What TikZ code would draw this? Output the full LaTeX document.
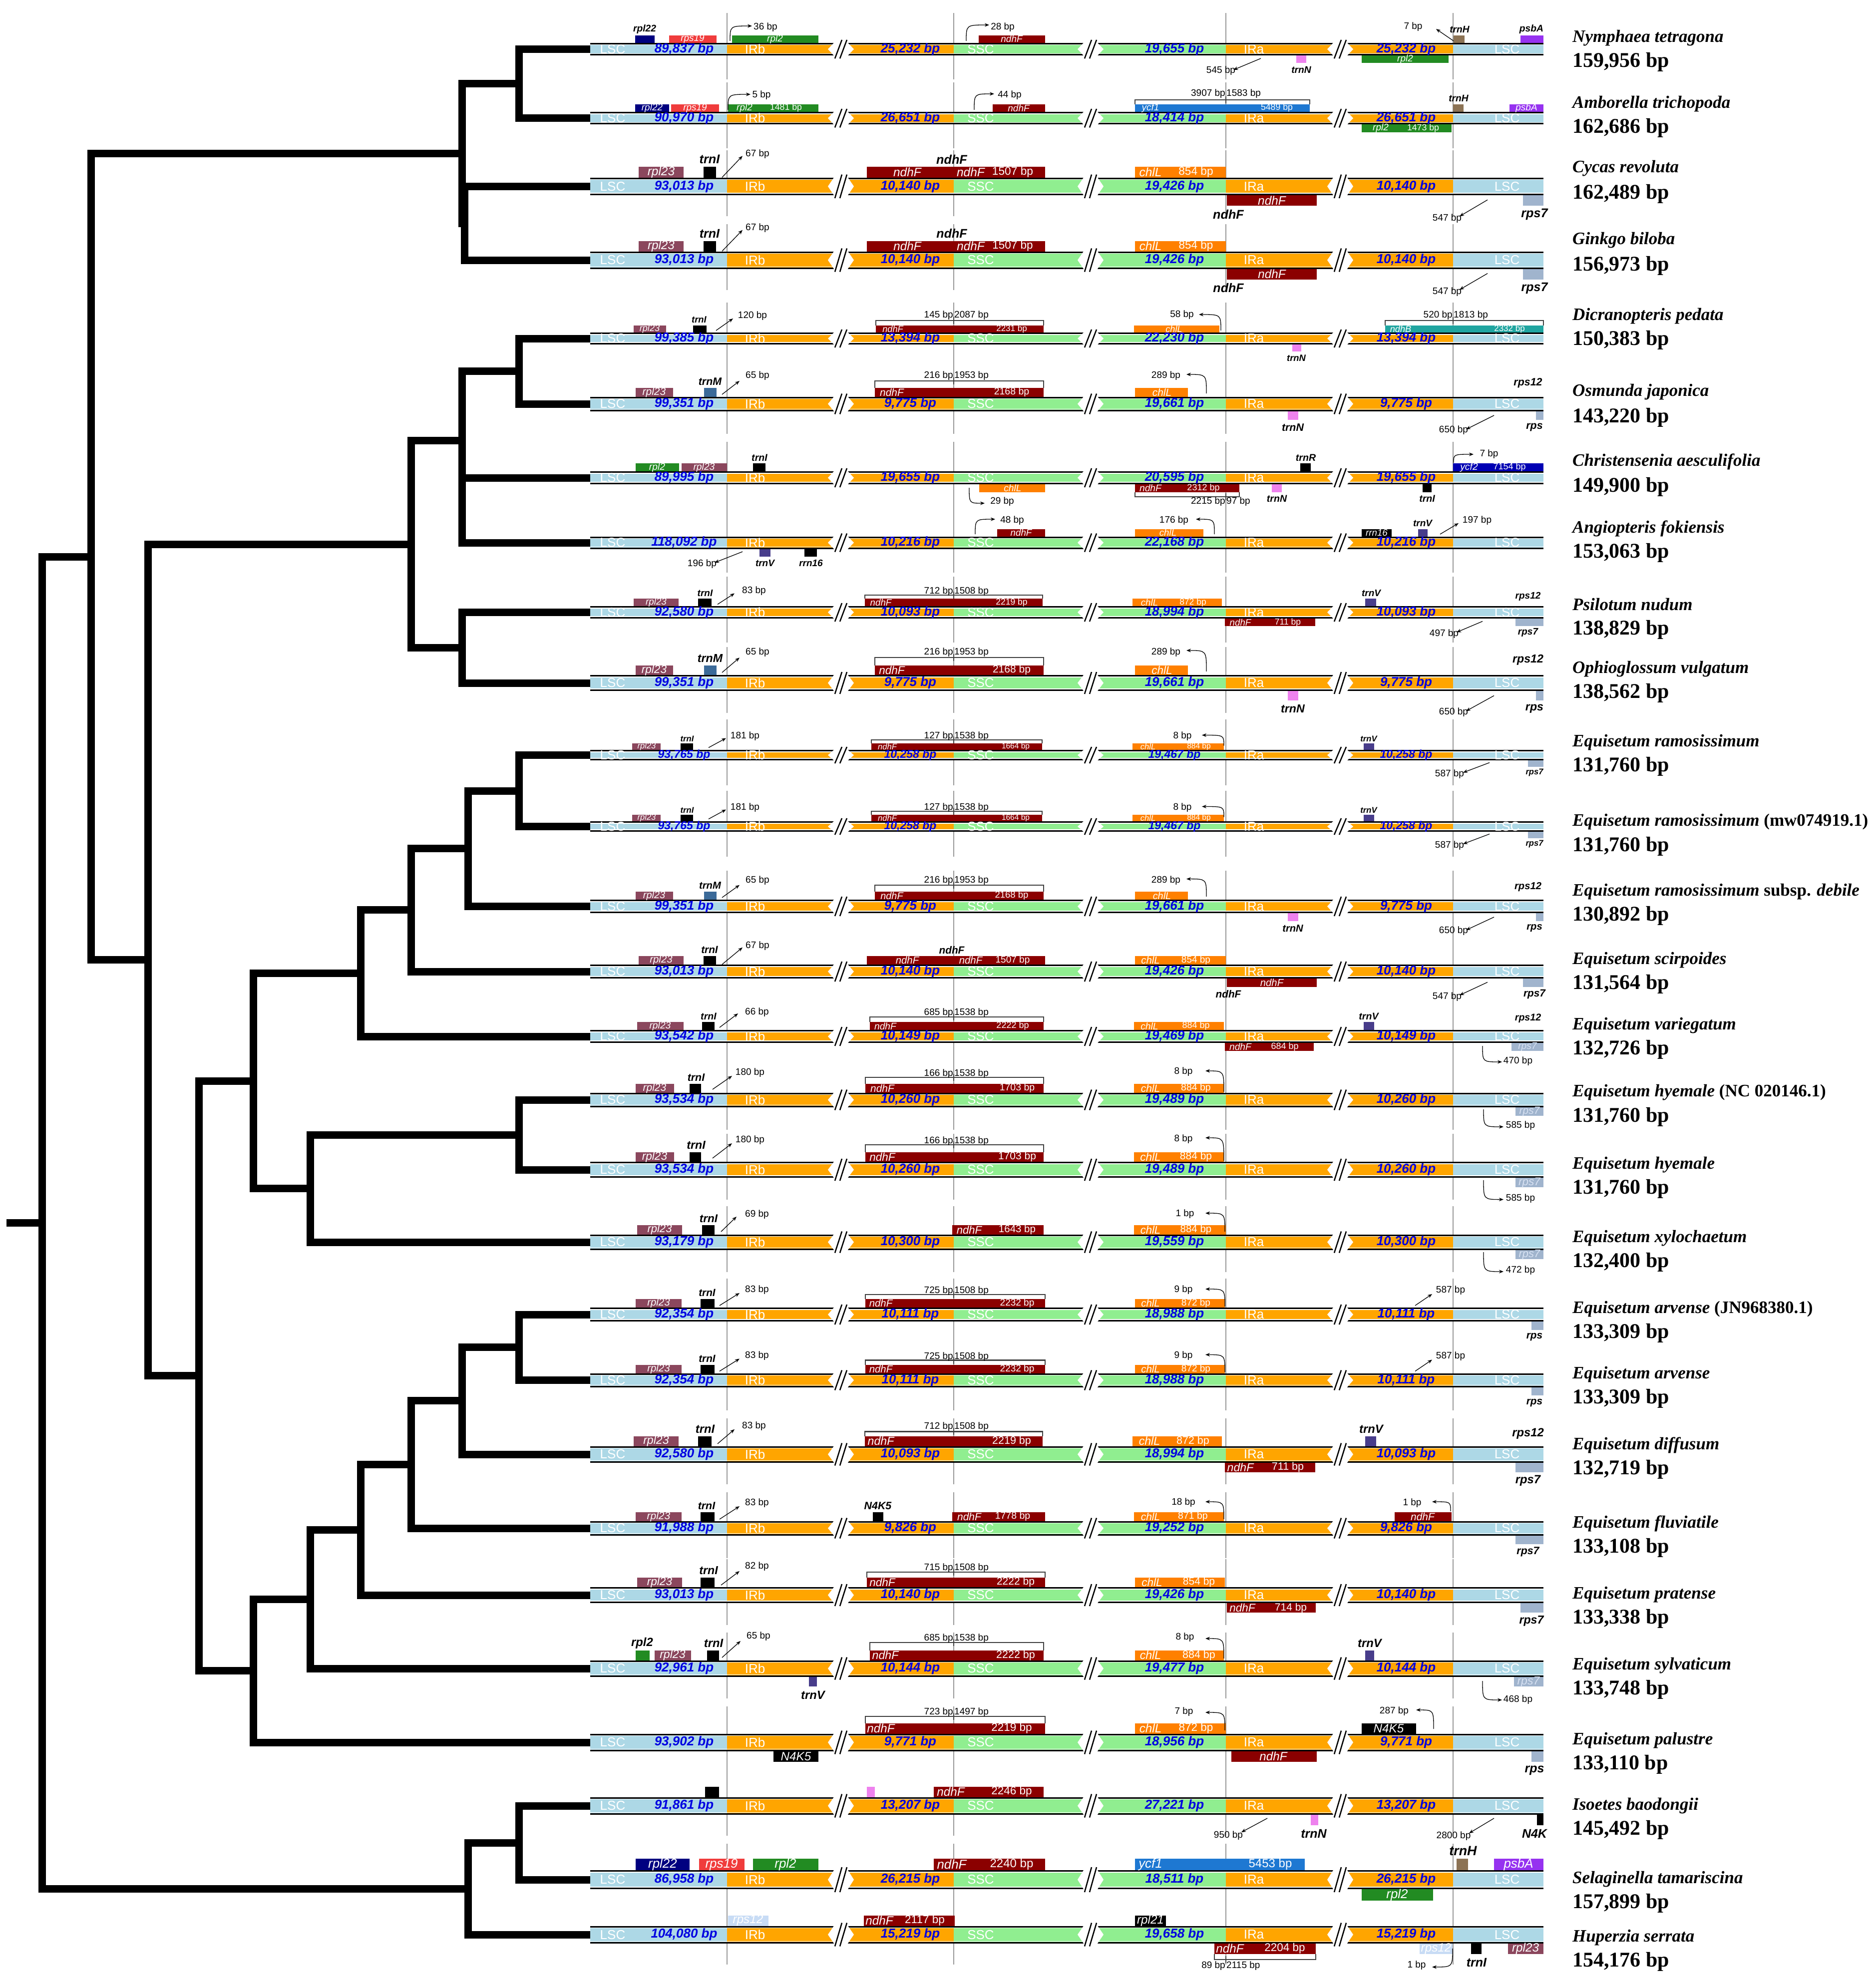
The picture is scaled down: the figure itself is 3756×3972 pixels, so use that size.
\documentclass[tikz,border=0pt]{standalone}
\usepackage{fontspec}
\setmainfont{Liberation Serif}
\setsansfont{Liberation Sans}
\usetikzlibrary{arrows.meta}
\definecolor{cLSC}{RGB}{173,216,230}
\definecolor{cIR}{RGB}{255,165,0}
\definecolor{cSSC}{RGB}{144,238,144}
\definecolor{bpblue}{RGB}{0,0,225}
\definecolor{crpl22}{RGB}{0,0,128}
\definecolor{crps19}{RGB}{240,60,60}
\definecolor{crpl2}{RGB}{34,139,34}
\definecolor{cndhF}{RGB}{139,0,0}
\definecolor{ctrnH}{RGB}{140,115,85}
\definecolor{cpsbA}{RGB}{150,50,240}
\definecolor{ctrnN}{RGB}{238,130,238}
\definecolor{cycf1}{RGB}{30,120,210}
\definecolor{crpl23}{RGB}{139,71,93}
\definecolor{cchlL}{RGB}{255,128,0}
\definecolor{crps7}{RGB}{160,180,205}
\definecolor{crps7t}{RGB}{215,225,242}
\definecolor{cndhB}{RGB}{32,165,160}
\definecolor{ctrnM}{RGB}{59,106,153}
\definecolor{cycf2}{RGB}{0,0,180}
\definecolor{ctrnV}{RGB}{72,61,139}
\definecolor{crps12}{RGB}{200,220,245}
\def\bfsz{26}\def\gfs{19}\def\gfn{18}\def\gnm{19}
\tikzset{
 segt/.style={font=\sffamily\fontsize{26}{26}\selectfont,text=white,inner sep=0},
 bpt/.style={font=\sffamily\bfseries\itshape\fontsize{\bfsz}{\bfsz}\selectfont,text=bpblue,inner sep=0},
 glab/.style={font=\sffamily\itshape\fontsize{\gfs}{\gfs}\selectfont,text=white,inner sep=0},
 glabn/.style={font=\sffamily\fontsize{\gfn}{\gfn}\selectfont,text=white,inner sep=0},
 glabl/.style={font=\sffamily\itshape\fontsize{\gfs}{\gfs}\selectfont,text=crps7t,inner sep=0},
 gname/.style={font=\sffamily\bfseries\itshape\fontsize{\gnm}{\gnm}\selectfont,inner sep=0},
 ann/.style={font=\sffamily\fontsize{19}{19}\selectfont,inner sep=0},
 spn/.style={font=\rmfamily\bfseries\itshape\fontsize{35}{35}\selectfont,anchor=west,inner sep=0},
 spb/.style={font=\rmfamily\bfseries\fontsize{42}{42}\selectfont,anchor=west,inner sep=0},
 arr/.style={-{Stealth[length=9pt,width=7pt]},line width=1.3},
 brk/.style={line width=2.2,black!75},
 vline/.style={line width=1.8,black!40},
 treeline/.style={line width=15,line cap=rect}
}
\newcommand\xBar{%
 \foreach \xx in {1456,1910,2455,2910}{\draw[vline] (\xx,{\yc-72}) -- (\xx,{\yc+60});}
 \fill[cLSC] (1182,\ta) rectangle (1456,\tb);
 \fill[cIR] (1456,\ta) rectangle (1670,\tb);
 \fill[cIR] (1698,\ta) rectangle (1910,\tb);
 \fill[cSSC] (1910,\ta) rectangle (2170,\tb);
 \fill[cSSC] (2198,\ta) rectangle (2455,\tb);
 \fill[cIR] (2455,\ta) rectangle (2670,\tb);
 \fill[cIR] (2698,\ta) rectangle (2910,\tb);
 \fill[cLSC] (2910,\ta) rectangle (3091,\tb);
 \foreach \xa/\xb in {1182/1670,1698/2170,2198/2670,2698/3091}{
  \draw[line width=3] (\xa,{\ta+1.5}) -- (\xb,{\ta+1.5});
  \draw[line width=3] (\xa,{\tb-1.5}) -- (\xb,{\tb-1.5});
  \draw[white,line width=1.2] (\xa,{\ta+4}) -- (\xb,{\ta+4});
  \draw[white,line width=1.2] (\xa,{\tb-4}) -- (\xb,{\tb-4});}
 \foreach \xb in {1684,2184,2684}{
  \fill[white] ({\xb-14},\ta) -- ({\xb-26},\yc) -- ({\xb-14},\tb) -- cycle;
  \fill[white] ({\xb+14},\ta) -- ({\xb+26},\yc) -- ({\xb+14},\tb) -- cycle;
  \draw[line width=2.5] ({\xb-12},{\tb+6}) -- ({\xb+2},{\ta-6});
  \draw[line width=2.5] ({\xb-2},{\tb+6}) -- ({\xb+12},{\ta-6});}
}
\newcommand\xRow[2]{\def\bfsz{26}\def\sc{1}%
 \pgfmathsetmacro\yc{#1}\pgfmathsetmacro\hh{#2}%
 \pgfmathsetmacro\gfs{1.1*#2+5}\pgfmathsetmacro\gfn{1.0*#2+5}\pgfmathsetmacro\gnm{1.2*#2+4}%
 \pgfmathsetmacro\gh{1.2*#2}\pgfmathsetmacro\ta{#1-#2}\pgfmathsetmacro\tb{#1+#2}%
 \pgfmathsetmacro\ga{#1-2.2*#2}\pgfmathsetmacro\gb{#1+2.2*#2}\xBar}
\newcommand\xGU[3]{\fill[#3] (#1,\ga) rectangle (#2,\ta);}
\newcommand\xGD[3]{\fill[#3] (#1,\tb) rectangle (#2,\gb);}
\newcommand\xTU[2]{\node[glab] at (#1,{\yc-1.6*\hh}) {#2};}
\newcommand\xTUn[2]{\node[glabn] at (#1,{\yc-1.6*\hh}) {#2};}
\newcommand\xTD[2]{\node[glab] at (#1,{\yc+1.6*\hh}) {#2};}
\newcommand\xTDn[2]{\node[glabn] at (#1,{\yc+1.6*\hh}) {#2};}
\newcommand\xTDl[2]{\node[glabl] at (#1,{\yc+1.6*\hh}) {#2};}
\newcommand\xNU[2]{\node[gname] at (#1,{\ga-0.6*\gnm}) {#2};}
\newcommand\xND[2]{\node[gname] at (#1,{\gb+0.7*\gnm}) {#2};}
\newcommand\xNm[3]{\node[gname] at (#1,{\yc+(#2)*\sc}) {#3};}
\newcommand\xA[3]{\node[ann] at (#1,{\yc+(#2)*\sc}) {#3};}
\newcommand\xAr[4]{\draw[arr] (#1,{\yc+(#2)*\sc}) -- (#3,{\yc+(#4)*\sc});}
\newcommand\xCv[4]{\draw[arr] (#1,{\yc+(#2)*\sc}) .. controls (#1,{\yc+(#4)*\sc}) .. (#3,{\yc+(#4)*\sc});}
\newcommand\xBRU[7]{\draw[brk] (#1,\ga) -- (#1,{\yc+(#3)*\sc}) -- (#2,{\yc+(#3)*\sc}) -- (#2,\ga);
 \draw[brk] (#4,{\yc+(#3)*\sc-7}) -- (#4,{\yc+(#3)*\sc+7});
 \node[ann,anchor=east] at ({#4-1},{\yc+(#7)*\sc}) {#5};
 \node[ann,anchor=west] at ({#4+1},{\yc+(#7)*\sc}) {#6};}
\newcommand\xBRD[7]{\draw[brk] (#1,\gb) -- (#1,{\yc+(#3)*\sc}) -- (#2,{\yc+(#3)*\sc}) -- (#2,\gb);
 \draw[brk] (#4,{\yc+(#3)*\sc-7}) -- (#4,{\yc+(#3)*\sc+7});
 \node[ann,anchor=east] at ({#4-1},{\yc+(#7)*\sc}) {#5};
 \node[ann,anchor=west] at ({#4+1},{\yc+(#7)*\sc}) {#6};}
\newcommand\xBT[4]{%
 \node[segt] at (1227,\yc) {LSC};
 \node[bpt] at (1370,\yc) {#1};
 \node[segt] at (1512,\yc) {IRb};
 \node[bpt] at (1823,\yc) {#2};
 \node[segt] at (1964,\yc) {SSC};
 \node[bpt] at (2352,\yc) {#3};
 \node[segt] at (2511,\yc) {IRa};
 \node[bpt] at (2816,\yc) {#4};
 \node[segt] at (3018,\yc) {LSC};}
\newcommand\xSp[4]{\node[spn] at (3149,#1) {#3}; \node[spb] at (3149,#2) {#4};}
% ---------- patterns ----------
\newcommand\PCycas{%
 \pgfmathsetmacro\sc{\hh/17.7}%
 \xBT{93,013 bp}{10,140 bp}{19,426 bp}{10,140 bp}%
 \xGU{1279}{1369}{crpl23}\xTU{1324}{rpl23}%
 \xGU{1409}{1434}{black}\xNU{1421}{trnI}%
 \xAr{1446}{-18}{1487}{-61}\xA{1517}{-65}{67 bp}%
 \xGU{1736}{2093}{cndhF}\xTU{1817}{ndhF}\xTU{1944}{ndhF}\xTUn{2028}{1507 bp}\xNU{1906}{ndhF}%
 \xGU{2273}{2455}{cchlL}\xTU{2304}{chlL}\xTUn{2395}{854 bp}%
 \xGD{2457}{2637}{cndhF}\xTD{2547}{ndhF}\xND{2460}{ndhF}%
 \xAr{2979}{27}{2923}{60}\xA{2898}{64}{547 bp}%
 \xGD{3050}{3091}{crps7}\xND{3073}{rps7}}
\newcommand\POsm{%
 \pgfmathsetmacro\sc{\hh/14.5}%
 \xBT{99,351 bp}{9,775 bp}{19,661 bp}{9,775 bp}%
 \xGU{1273}{1348}{crpl23}\xTU{1310}{rpl23}%
 \xGU{1410}{1435}{ctrnM}\xNU{1422}{trnM}%
 \xAr{1446}{-19}{1481}{-46}\xA{1517}{-56}{65 bp}%
 \xGU{1752}{2090}{cndhF}\xTU{1786}{ndhF}\xTUn{2026}{2168 bp}%
 \xBRU{1752}{2090}{-46}{1910}{216 bp}{1953 bp}{-56}%
 \xGU{2273}{2379}{cchlL}\xTU{2327}{chlL}%
 \xCv{2416}{-21}{2376}{-59}\xA{2335}{-56}{289 bp}%
 \xNm{3060}{-42}{rps12}%
 \xGD{2579}{2600}{ctrnN}\xND{2589}{trnN}%
 \xAr{2992}{23}{2936}{51}\xA{2911}{53}{650 bp}%
 \xGD{3076}{3091}{crps7}\xND{3073}{rps}}
\newcommand\PPsi{%
 \pgfmathsetmacro\sc{\hh/12.5}%
 \xBT{92,580 bp}{10,093 bp}{18,994 bp}{10,093 bp}%
 \xGU{1269}{1359}{crpl23}\xTU{1314}{rpl23}%
 \xGU{1398}{1425}{black}\xNU{1412}{trnI}%
 \xAr{1437}{-16}{1471}{-38}\xA{1510}{-43}{83 bp}%
 \xGU{1732}{2088}{cndhF}\xTU{1764}{ndhF}\xTUn{2026}{2219 bp}%
 \xBRU{1732}{2088}{-34.5}{1910}{712 bp}{1508 bp}{-42}%
 \xGU{2268}{2447}{cchlL}\xTU{2302}{chlL}\xTUn{2389}{872 bp}%
 \xGU{2734}{2756}{ctrnV}\xNU{2746}{trnV}%
 \xNm{3060}{-31.5}{rps12}%
 \xGD{2453}{2634}{cndhF}\xTD{2484}{ndhF}\xTDn{2579}{711 bp}%
 \xGD{3035}{3091}{crps7}\xND{3060}{rps7}}
\newcommand\PRam{%
 \pgfmathsetmacro\sc{\hh/10.5}%
 \xBT{93,765 bp}{10,258 bp}{19,467 bp}{10,258 bp}%
 \xGU{1266}{1323}{crpl23}\xTU{1295}{rpl23}%
 \xGU{1363}{1388}{black}\xNU{1376}{trnI}%
 \xAr{1419}{-15}{1454}{-34}\xA{1492}{-38}{181 bp}%
 \xGU{1745}{2087}{cndhF}\xTU{1777}{ndhF}\xTUn{2034}{1664 bp}%
 \xBRU{1745}{2087}{-30.5}{1910}{127 bp}{1538 bp}{-38}%
 \xGU{2268}{2451}{cchlL}\xTU{2299}{chlL}\xTUn{2401}{884 bp}%
 \xCv{2451}{-19}{2407}{-40}\xA{2368}{-38}{8 bp}%
 \xGU{2731}{2752}{ctrnV}\xNU{2741}{trnV}%
 \xAr{2983}{15}{2930}{35}\xA{2903}{38}{587 bp}%
 \xGD{3060}{3091}{crps7}\xND{3073}{rps7}}
\newcommand\PHye{%
 \pgfmathsetmacro\sc{\hh/14.5}%
 \xBT{93,534 bp}{10,260 bp}{19,489 bp}{10,260 bp}%
 \xGU{1273}{1350}{crpl23}\xTU{1311}{rpl23}%
 \xGU{1381}{1404}{black}\xNU{1394}{trnI}%
 \xAr{1427}{-21}{1466}{-48}\xA{1502}{-54}{180 bp}%
 \xGU{1733}{2090}{cndhF}\xTU{1767}{ndhF}\xTUn{2037}{1703 bp}%
 \xBRU{1733}{2090}{-45}{1910}{166 bp}{1538 bp}{-52}%
 \xGU{2271}{2451}{cchlL}\xTU{2304}{chlL}\xTUn{2395}{884 bp}%
 \xCv{2451}{-16}{2414}{-58}\xA{2370}{-56}{8 bp}%
 \xGD{3035}{3091}{crps7}\xTDl{3063}{rps7}%
 \xCv{2971}{19}{3011}{54}\xA{3045}{52}{585 bp}}
\newcommand\PArv{%
 \pgfmathsetmacro\sc{\hh/14}%
 \xBT{92,354 bp}{10,111 bp}{18,988 bp}{10,111 bp}%
 \xGU{1273}{1365}{crpl23}\xTU{1319}{rpl23}%
 \xGU{1403}{1431}{black}\xNU{1416}{trnI}%
 \xAr{1441}{-18}{1481}{-43}\xA{1516}{-49}{83 bp}%
 \xGU{1733}{2093}{cndhF}\xTU{1764}{ndhF}\xTUn{2037}{2232 bp}%
 \xBRU{1733}{2093}{-40}{1910}{725 bp}{1508 bp}{-47}%
 \xGU{2273}{2453}{cchlL}\xTU{2304}{chlL}\xTUn{2395}{872 bp}%
 \xCv{2453}{-16}{2414}{-51}\xA{2370}{-49}{9 bp}%
 \xAr{2834}{-18}{2868}{-41}\xA{2905}{-48}{587 bp}%
 \xGD{3067}{3091}{crps7}\xND{3073}{rps}}
\begin{document}
\begin{tikzpicture}[x=1pt,y=-1pt]
\useasboundingbox (0,0) rectangle (3756,3972);
\fill[white] (0,0) rectangle (3756,3972);
% ---------- tree ----------
\foreach \i/\y in {1/98.5,2/236.7,3/373.3,4/521,5/678,6/809,7/957,8/1087,9/1226.5,10/1368,11/1512.5,12/1655.5,13/1815.5,14/1946,15/2076,16/2203,17/2343,18/2488,19/2633,20/2764.5,21/2913,22/3061,23/3195,24/3342,25/3490,26/3617,27/3765,28/3875}{\coordinate (L\i) at (1182,\y);}
\coordinate (A1) at (1039,167.6);
\coordinate (G1) at (930,447.2);
\coordinate (S) at (925,307.4);
\coordinate (F1) at (1039,743.5);
\coordinate (F2) at (925,1022);
\coordinate (F3) at (925,882.8);
\coordinate (F4) at (925,1297.3);
\coordinate (F5) at (823,1090);
\coordinate (E1) at (1039,1584);
\coordinate (E2) at (937,1699.8);
\coordinate (E3) at (823,1822.9);
\coordinate (E4) at (722,1949.4);
\coordinate (E5) at (1039,2273);
\coordinate (E6) at (621,2380.5);
\coordinate (H) at (507,2165);
\coordinate (E8) at (1039,2698.8);
\coordinate (E9) at (925,2805.9);
\coordinate (E10) at (823,2933.5);
\coordinate (E11) at (722,3064.2);
\coordinate (E12) at (621,3203.1);
\coordinate (E13) at (507,3346.6);
\coordinate (Gen) at (398,2755.8);
\coordinate (FE) at (296,1922.9);
\coordinate (V) at (182,1115.2);
\coordinate (Ly1) at (1039,3691);
\coordinate (Ly2) at (937,3783);
\coordinate (Rt) at (84,2449.1);
\coordinate (R0) at (20,2449.1);
\foreach \p/\c in {A1/L1,A1/L2,G1/L3,G1/L4,S/A1,S/G1,F1/L5,F1/L6,F2/L7,F2/L8,F3/F1,F3/F2,F4/L9,F4/L10,F5/F3,F5/F4,E1/L11,E1/L12,E2/E1,E2/L13,E3/E2,E3/L14,E4/E3,E4/L15,E5/L16,E5/L17,E6/E5,E6/L18,H/E4,H/E6,E8/L19,E8/L20,E9/E8,E9/L21,E10/E9,E10/L22,E11/E10,E11/L23,E12/E11,E12/L24,E13/E12,E13/L25,Gen/H,Gen/E13,FE/F5,FE/Gen,V/S,V/FE,Ly1/L26,Ly1/L27,Ly2/Ly1,Ly2/L28,Rt/V,Rt/Ly2}{\draw[treeline] (\p) |- (\c);}
\draw[treeline] (R0) -- (Rt);
% ---------- row 1 Nymphaea ----------
\xRow{98.5}{12.7}
\xBT{89,837 bp}{25,232 bp}{19,655 bp}{25,232 bp}
\xGU{1272}{1311}{crpl22}\xNU{1291}{rpl22}
\xGU{1340}{1435}{crps19}\xTU{1387}{rps19}
\xGU{1466}{1639}{crpl2}\xTU{1552}{rpl2}
\xCv{1462}{-16.5}{1506}{-46.5}\xA{1533}{-43.5}{36 bp}
\xGU{1960}{2093}{cndhF}\xTU{2026}{ndhF}
\xCv{1935}{-16.5}{1981}{-48.5}\xA{2008}{-43.5}{28 bp}
\xAr{2525}{18.5}{2470}{41.5}\xA{2445}{43.5}{545 bp}
\xGD{2596}{2616}{ctrnN}\xND{2606}{trnN}
\xGD{2727}{2901}{crpl2}\xTD{2814}{rpl2}
\xAr{2911}{-16.5}{2876}{-40.5}\xA{2830}{-44.5}{7 bp}
\xGU{2911}{2933}{ctrnH}\xNU{2923}{trnH}
\xGU{3045}{3091}{cpsbA}\xNU{3067}{psbA}
% ---------- row 2 Amborella ----------
\xRow{236.7}{12.7}
\xBT{90,970 bp}{26,651 bp}{18,414 bp}{26,651 bp}
\xGU{1272}{1340}{crpl22}\xTU{1306}{rpl22}
\xGU{1344}{1440}{crps19}\xTU{1392}{rps19}
\xGU{1458}{1639}{crpl2}\xTU{1491}{rpl2}\xTUn{1574}{1481 bp}
\xCv{1458}{-16.7}{1503}{-47.7}\xA{1525}{-45.7}{5 bp}
\xGU{1988}{2093}{cndhF}\xTU{2040}{ndhF}
\xCv{1951}{-16.7}{1991}{-48.7}\xA{2022}{-45.7}{44 bp}
\xGU{2273}{2623}{cycf1}\xTU{2304}{ycf1}\xTUn{2557}{5489 bp}
\xBRU{2273}{2623}{-36.7}{2455}{3907 bp}{1583 bp}{-48.7}
\xGU{2910}{2931}{ctrnH}\xNU{2921}{trnH}
\xGU{3023}{3091}{cpsbA}\xTU{3057}{psbA}
\xGD{2727}{2907}{crpl2}\xTD{2765}{rpl2}\xTDn{2850}{1473 bp}
% ---------- rows 3,4 ----------
\xRow{373.3}{17.7}\PCycas
\xRow{521}{17.5}\PCycas
% ---------- row 5 Dicranopteris ----------
\xRow{678}{12}
\xBT{99,385 bp}{13,394 bp}{22,230 bp}{13,394 bp}
\xGU{1269}{1334}{crpl23}\xTU{1301}{rpl23}
\xGU{1388}{1415}{black}\xNU{1400}{trnI}
\xAr{1434}{-16}{1468}{-40}\xA{1507}{-45}{120 bp}
\xGU{1754}{2090}{cndhF}\xTU{1788}{ndhF}\xTUn{2026}{2231 bp}
\xBRU{1754}{2090}{-36}{1910}{145 bp}{2087 bp}{-46}
\xGU{2271}{2442}{cchlL}\xTU{2351}{chlL}
\xCv{2445}{-16}{2401}{-48}\xA{2367}{-47}{58 bp}
\xGU{2774}{3091}{cndhB}\xTU{2805}{ndhB}\xTUn{3023}{2332 bp}
\xBRU{2774}{3091}{-36}{2910}{520 bp}{1813 bp}{-46}
\xGD{2588}{2606}{ctrnN}\xND{2596}{trnN}
% ---------- row 6 Osmunda ----------
\xRow{809}{14.5}\POsm
% ---------- row 7 Christensenia ----------
\xRow{957}{13}
\xBT{89,995 bp}{19,655 bp}{20,595 bp}{19,655 bp}
\xGU{1273}{1360}{crpl2}\xTU{1316}{rpl2}
\xGU{1365}{1456}{crpl23}\xTU{1410}{rpl23}
\xGU{1508}{1533}{black}\xNU{1521}{trnI}
\xGU{2604}{2625}{black}\xNU{2615}{trnR}
\xGU{2910}{3091}{cycf2}\xTU{2942}{ycf2}\xTUn{3023}{7154 bp}
\xCv{2911}{-30}{2951}{-47}\xA{2982}{-47}{7 bp}
\xGD{1961}{2093}{cchlL}\xTD{2028}{chlL}
\xCv{1941}{20}{1972}{51}\xA{2007}{48}{29 bp}
\xGD{2273}{2482}{cndhF}\xTD{2304}{ndhF}\xTDn{2410}{2312 bp}
\xBRD{2273}{2482}{38}{2455}{2215 bp}{97 bp}{48}
\xGD{2547}{2567}{ctrnN}\xND{2557}{trnN}
\xGD{2849}{2867}{black}\xND{2858}{trnI}
% ---------- row 8 Angiopteris ----------
\xRow{1087}{12.5}
\xBT{118,092 bp}{10,216 bp}{22,168 bp}{10,216 bp}
\xGU{1997}{2093}{cndhF}\xTU{2045}{ndhF}
\xCv{1953}{-17}{1993}{-47}\xA{2027}{-44}{48 bp}
\xGU{2273}{2410}{cchlL}\xTU{2339}{chlL}
\xCv{2432}{-17}{2395}{-47}\xA{2351}{-44}{176 bp}
\xGU{2727}{2787}{black}\xTU{2757}{rrn16}
\xGU{2840}{2859}{ctrnV}\xNU{2849}{trnV}
\xAr{2884}{-17}{2921}{-39}\xA{2958}{-44}{197 bp}
\xAr{1487}{18}{1431}{40}\xA{1406}{43}{196 bp}
\xGD{1521}{1543}{ctrnV}\xND{1532}{trnV}
\xGD{1611}{1636}{black}\xND{1624}{rrn16}
% ---------- row 9 Psilotum ----------
\xRow{1226.5}{12.5}\PPsi
\xAr{2969}{18}{2917}{40}\xA{2892}{43}{497 bp}
% ---------- row 10 Ophioglossum ----------
\xRow{1368}{16}\POsm
% ---------- rows 11,12 ----------
\xRow{1512.5}{10.5}\def\bfsz{23}\PRam
\xRow{1655.5}{10.5}\def\bfsz{23}\PRam
% ---------- row 13 ----------
\xRow{1815.5}{13.5}\POsm
% ---------- row 14 ----------
\xRow{1946}{14}\PCycas
% ---------- row 15 variegatum ----------
\xRow{2076}{13}
\xBT{93,542 bp}{10,149 bp}{19,469 bp}{10,149 bp}
\xGU{1276}{1369}{crpl23}\xTU{1322}{rpl23}
\xGU{1406}{1431}{black}\xNU{1419}{trnI}
\xAr{1441}{-18}{1478}{-46}\xA{1516}{-48}{66 bp}
\xGU{1742}{2090}{cndhF}\xTU{1773}{ndhF}\xTUn{2028}{2222 bp}
\xBRU{1742}{2090}{-39}{1910}{685 bp}{1538 bp}{-47}
\xGU{2271}{2451}{cchlL}\xTU{2302}{chlL}\xTUn{2395}{884 bp}
\xGU{2731}{2752}{ctrnV}\xNU{2741}{trnV}
\xNm{3060}{-36}{rps12}
\xGD{2453}{2631}{cndhF}\xTD{2484}{ndhF}\xTDn{2573}{684 bp}
\xGD{3027}{3091}{crps7}\xTDl{3059}{rps7}
\xCv{2969}{19}{3008}{51}\xA{3040}{50}{470 bp}
% ---------- rows 16,17 ----------
\xRow{2203}{14.5}\PHye
\xRow{2343}{16}\PHye
% ---------- row 18 xylochaetum ----------
\xRow{2488}{15.5}
\xBT{93,179 bp}{10,300 bp}{19,559 bp}{10,300 bp}
\xGU{1276}{1366}{crpl23}\xTU{1321}{rpl23}
\xGU{1406}{1431}{black}\xNU{1419}{trnI}
\xAr{1444}{-21}{1475}{-51}\xA{1516}{-55}{69 bp}
\xGU{1907}{2090}{cndhF}\xTU{1941}{ndhF}\xTUn{2037}{1643 bp}
\xGU{2271}{2455}{cchlL}\xTU{2304}{chlL}\xTUn{2395}{884 bp}
\xCv{2453}{-21}{2414}{-58}\xA{2373}{-56}{1 bp}
\xGD{3035}{3091}{crps7}\xTDl{3063}{rps7}
\xCv{2971}{20}{3011}{59}\xA{3045}{57}{472 bp}
% ---------- rows 19,20 ----------
\xRow{2633}{14}\PArv
\xRow{2764.5}{14}\PArv
% ---------- row 21 diffusum ----------
\xRow{2913}{16.5}\PPsi
% ---------- row 22 fluviatile ----------
\xRow{3061}{14.5}
\xBT{91,988 bp}{9,826 bp}{19,252 bp}{9,826 bp}
\xGU{1273}{1365}{crpl23}\xTU{1319}{rpl23}
\xGU{1403}{1431}{black}\xNU{1415}{trnI}
\xAr{1441}{-18}{1481}{-44}\xA{1516}{-50}{83 bp}
\xGU{1748}{1769}{black}\xNU{1758}{N4K5}
\xGU{1907}{2093}{cndhF}\xTU{1941}{ndhF}\xTUn{2028}{1778 bp}
\xGU{2271}{2451}{cchlL}\xTU{2304}{chlL}\xTUn{2389}{871 bp}
\xCv{2451}{-18}{2414}{-53}\xA{2370}{-51}{18 bp}
\xGU{2793}{2907}{cndhF}\xTU{2849}{ndhF}
\xCv{2905}{-34}{2868}{-53}\xA{2828}{-50}{1 bp}
\xGD{3035}{3091}{crps7}\xND{3060}{rps7}
% ---------- row 23 pratense ----------
\xRow{3195}{16}
\xBT{93,013 bp}{10,140 bp}{19,426 bp}{10,140 bp}
\xGU{1276}{1366}{crpl23}\xTU{1321}{rpl23}
\xGU{1403}{1431}{black}\xNU{1419}{trnI}
\xAr{1444}{-20}{1481}{-48}\xA{1516}{-57}{82 bp}
\xGU{1736}{2093}{cndhF}\xTU{1767}{ndhF}\xTUn{2034}{2222 bp}
\xBRU{1736}{2093}{-46}{1910}{715 bp}{1508 bp}{-54}
\xGU{2273}{2453}{cchlL}\xTU{2307}{chlL}\xTUn{2401}{854 bp}
\xGD{2457}{2635}{cndhF}\xTD{2488}{ndhF}\xTDn{2585}{714 bp}
\xGD{3045}{3091}{crps7}\xND{3067}{rps7}
% ---------- row 24 sylvaticum ----------
\xRow{3342}{16.5}
\xBT{92,961 bp}{10,144 bp}{19,477 bp}{10,144 bp}
\xGU{1273}{1301}{crpl2}\xNU{1286}{rpl2}
\xGU{1311}{1384}{crpl23}\xTU{1347}{rpl23}
\xGU{1416}{1440}{black}\xNU{1429}{trnI}
\xAr{1446}{-22}{1483}{-55}\xA{1519}{-64}{65 bp}
\xGU{1742}{2090}{cndhF}\xTU{1773}{ndhF}\xTUn{2034}{2222 bp}
\xBRU{1742}{2090}{-52}{1910}{685 bp}{1538 bp}{-60}
\xGU{2273}{2451}{cchlL}\xTU{2304}{chlL}\xTUn{2401}{884 bp}
\xCv{2451}{-20}{2414}{-60}\xA{2373}{-62}{8 bp}
\xGU{2734}{2752}{ctrnV}\xNU{2743}{trnV}
\xGD{1620}{1636}{ctrnV}\xND{1628}{trnV}
\xGD{3032}{3091}{crps7}\xTDl{3061}{rps7}
\xCv{2969}{25}{3008}{63}\xA{3040}{63}{468 bp}
% ---------- row 25 palustre ----------
\xRow{3490}{17.5}
\xBT{93,902 bp}{9,771 bp}{18,956 bp}{9,771 bp}
\xGU{1733}{2093}{cndhF}\xTU{1764}{ndhF}\xTUn{2026}{2219 bp}
\xBRU{1733}{2093}{-52}{1910}{723 bp}{1497 bp}{-60}
\xGU{2273}{2455}{cchlL}\xTU{2304}{chlL}\xTUn{2395}{872 bp}
\xCv{2453}{-24}{2414}{-60}\xA{2371}{-61}{7 bp}
\xGU{2727}{2836}{black}\xTU{2781}{N4K5}
\xCv{2871}{-27}{2836}{-65}\xA{2792}{-62}{287 bp}
\xGD{1549}{1639}{black}\xTD{1594}{N4K5}
\xGD{2466}{2637}{cndhF}\xTD{2550}{ndhF}
\xGD{3067}{3091}{crps7}\xND{3073}{rps}
% ---------- row 26 Isoetes ----------
\xRow{3617}{17.5}
\xBT{91,861 bp}{13,207 bp}{27,221 bp}{13,207 bp}
\xGU{1412}{1440}{black}
\xGU{1736}{1752}{ctrnN}
\xGU{1870}{2090}{cndhF}\xTU{1904}{ndhF}\xTUn{2026}{2246 bp}
\xAr{2538}{25}{2486}{53}\xA{2460}{60}{950 bp}
\xGD{2625}{2640}{ctrnN}\xND{2631}{trnN}
\xAr{2992}{25}{2942}{55}\xA{2911}{61}{2800 bp}
\xGD{3078}{3091}{black}\xND{3073}{N4K}
% ---------- row 27 Selaginella ----------
\xRow{3765}{19}
\xBT{86,958 bp}{26,215 bp}{18,511 bp}{26,215 bp}
\xGU{1273}{1381}{crpl22}\xTU{1327}{rpl22}
\xGU{1400}{1491}{crps19}\xTU{1445}{rps19}
\xGU{1508}{1639}{crpl2}\xTU{1573}{rpl2}
\xGU{1870}{2093}{cndhF}\xTU{1906}{ndhF}\xTUn{2026}{2240 bp}
\xGU{2273}{2613}{cycf1}\xTU{2304}{ycf1}\xTUn{2544}{5453 bp}
\xGU{2917}{2940}{ctrnH}\xNU{2930}{trnH}
\xGU{2992}{3091}{cpsbA}\xTU{3041}{psbA}
\xGD{2727}{2870}{crpl2}\xTD{2798}{rpl2}
% ---------- row 28 Huperzia ----------
\xRow{3875}{17.5}
\xBT{104,080 bp}{15,219 bp}{19,658 bp}{15,219 bp}
\xGU{1458}{1539}{crps12}\xTU{1498}{rps12}
\xGU{1730}{1912}{cndhF}\xTU{1761}{ndhF}\xTUn{1852}{2117 bp}
\xGU{2273}{2335}{black}\xTU{2304}{rpl21}
\xGD{2432}{2635}{cndhF}\xTD{2463}{ndhF}\xTDn{2573}{2204 bp}
\xBRD{2432}{2635}{50}{2455}{89 bp}{2115 bp}{63}
\xGD{2843}{2909}{crps12}\xTD{2876}{rps12}
\xCv{2909}{28}{2868}{65}\xA{2837}{62}{1 bp}
\xGD{2946}{2967}{black}\xND{2957}{trnI}
\xGD{3020}{3091}{crpl23}\xTD{3055}{rpl23}
% ---------- species labels ----------
\xSp{76}{124}{Nymphaea tetragona}{159,956 bp}
\xSp{208}{256}{Amborella trichopoda}{162,686 bp}
\xSp{337}{388}{Cycas revoluta}{162,489 bp}
\xSp{481}{532}{Ginkgo biloba}{156,973 bp}
\xSp{633}{681}{Dicranopteris pedata}{150,383 bp}
\xSp{785}{836}{Osmunda japonica}{143,220 bp}
\xSp{925}{975}{Christensenia aesculifolia}{149,900 bp}
\xSp{1059}{1107}{Angiopteris fokiensis}{153,063 bp}
\xSp{1211}{1261}{Psilotum nudum}{138,829 bp}
\xSp{1340}{1388}{Ophioglossum vulgatum}{138,562 bp}
\xSp{1487}{1535}{Equisetum ramosissimum}{131,760 bp}
\xSp{1646}{1695}{Equisetum ramosissimum {\upshape(mw074919.1)}}{131,760 bp}
\xSp{1786}{1834}{Equisetum ramosissimum {\upshape subsp.} debile}{130,892 bp}
\xSp{1923}{1971}{Equisetum scirpoides}{131,564 bp}
\xSp{2054}{2102}{Equisetum variegatum}{132,726 bp}
\xSp{2188}{2237}{Equisetum hyemale {\upshape(NC 020146.1)}}{131,760 bp}
\xSp{2333}{2381}{Equisetum hyemale}{131,760 bp}
\xSp{2480}{2528}{Equisetum xylochaetum}{132,400 bp}
\xSp{2622}{2670}{Equisetum arvense {\upshape(JN968380.1)}}{133,309 bp}
\xSp{2753}{2801}{Equisetum arvense}{133,309 bp}
\xSp{2895}{2943}{Equisetum diffusum}{132,719 bp}
\xSp{3052}{3100}{Equisetum fluviatile}{133,108 bp}
\xSp{3194}{3242}{Equisetum pratense}{133,338 bp}
\xSp{3336}{3384}{Equisetum sylvaticum}{133,748 bp}
\xSp{3486}{3534}{Equisetum palustre}{133,110 bp}
\xSp{3617}{3665}{Isoetes baodongii}{145,492 bp}
\xSp{3764}{3812}{Selaginella tamariscina}{157,899 bp}
\xSp{3881}{3929}{Huperzia serrata}{154,176 bp}
\end{tikzpicture}
\end{document}
